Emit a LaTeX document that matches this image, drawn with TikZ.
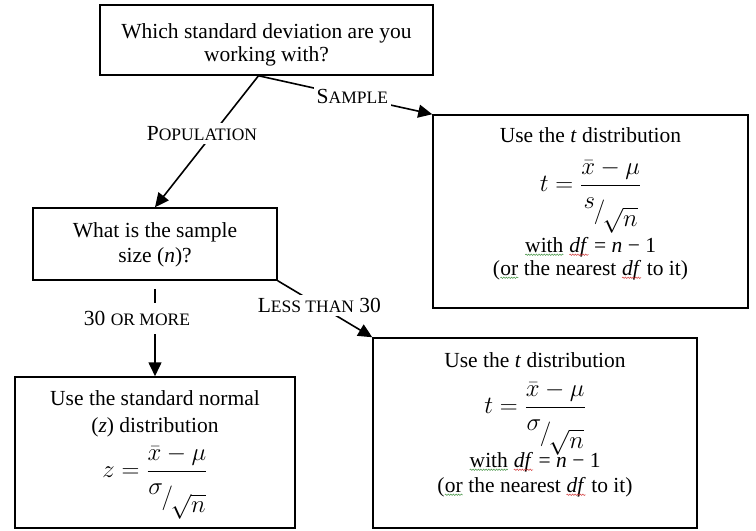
\documentclass[tikz,border=0pt]{standalone}
\usepackage{fontspec}
\setmainfont{Liberation Serif}
\usetikzlibrary{arrows.meta,calc,decorations.pathmorphing}
\newcommand\Sc[1]{{\fontsize{17.5bp}{20bp}\selectfont #1}}
\newcommand\Squig[2]{\tikz[baseline=(sq.base)]{\node[inner sep=0pt,outer sep=0pt,draw=none,fill=none,anchor=base](sq){#2};\draw[#1,line width=0.5bp,decorate,decoration={snake,amplitude=0.7bp,segment length=2.6bp}]([yshift=-2.5bp]sq.base west)--([yshift=-2.5bp]sq.base east);}}
\newcommand\SkewDen[2]{#1\kern-0.05em\raisebox{-0.4em}{$\Big/$}\kern-0.1em\raisebox{-0.72em}{$#2$}}
\definecolor{sqgreen}{RGB}{70,150,70}
\definecolor{sqred}{RGB}{210,60,60}
\begin{document}
\begin{tikzpicture}[x=1bp,y=-1bp,
  box/.style={draw,line width=1.5bp,inner sep=0pt},
  txt/.style={font=\fontsize{21.5bp}{25bp}\selectfont,inner sep=0pt,anchor=base},
  mth/.style={font=\fontsize{26bp}{30bp}\selectfont,inner sep=0pt,anchor=base},
  conn/.style={line width=1.6bp},
  arr/.style={conn,-{Triangle[length=14bp,width=13bp]}},
  lab/.style={fill=white,inner sep=3bp,font=\fontsize{21.5bp}{25bp}\selectfont}]
\fill[white] (0,0) rectangle (756,531);
\useasboundingbox (0,0) rectangle (756,531);

% boxes
\node[box,minimum width=333bp,minimum height=70bp] (top) at (266.5,40) {};
\node[box,minimum width=315bp,minimum height=193bp] (rbox) at (590.5,211.5) {};
\node[box,minimum width=244bp,minimum height=72bp] (mid) at (155,244) {};
\node[box,minimum width=280bp,minimum height=151bp] (lbox) at (155,452.5) {};
\node[box,minimum width=324bp,minimum height=190bp] (brbox) at (535,433) {};

% texts
\node[txt] (top1) at ($(top.north)+(0,34)$) {Which standard deviation are you};
\node[txt] (top2) at ($(top.north)+(0,57)$) {working with?};

\node[txt] (mid1) at ($(mid.north)+(0,30)$) {What is the sample};
\node[txt] (mid2) at ($(mid.north)+(0,55)$) {size (\textit{n})?};

\node[txt] (r1) at ($(rbox.north)+(0,28)$) {Use the \textit{t} distribution};
\node[mth] (rf) at ($(rbox.north)+(0,77)$) {$\displaystyle t=\frac{\bar{x}-\mu}{\SkewDen{s}{\sqrt{n}}}$};
\node[txt] (r2) at ($(rbox.north)+(0,138)$) {\Squig{sqgreen}{with} \Squig{sqred}{\textit{df}} = \textit{n} − 1};
\node[txt] (r3) at ($(rbox.north)+(0,161)$) {(\Squig{sqgreen}{or} the nearest \Squig{sqred}{\textit{df}} to it)};

\node[txt] (b1) at ($(brbox.north)+(0,30)$) {Use the \textit{t} distribution};
\node[mth] (bf) at ($(brbox.north)+(0,76)$) {$\displaystyle t=\frac{\bar{x}-\mu}{\SkewDen{\sigma}{\sqrt{n}}}$};
\node[txt] (b2) at ($(brbox.north)+(0,130)$) {\Squig{sqgreen}{with} \Squig{sqred}{\textit{df}} = \textit{n} − 1};
\node[txt] (b3) at ($(brbox.north)+(0,155)$) {(\Squig{sqgreen}{or} the nearest \Squig{sqred}{\textit{df}} to it)};

\node[txt] (l1) at ($(lbox.north)+(0,29)$) {Use the standard normal};
\node[txt] (l2) at ($(lbox.north)+(0,56)$) {(\textit{z}) distribution};
\node[mth] (lf) at ($(lbox.north)+(0,101)$) {$\displaystyle z=\frac{\bar{x}-\mu}{\SkewDen{\sigma}{\sqrt{n}}}$};

% connectors
\coordinate (split) at ($(top.south)+(-8,0)$);
\coordinate (m30) at ($(mid.south)+(0,8)$);
\draw[arr] (split) -- node[lab,pos=0.54] (lsample) {S\Sc{AMPLE}} (rbox.north west);
\draw[arr] (split) -- node[lab,pos=0.44,xshift=-11bp] (lpop) {P\Sc{OPULATION}} (mid.north);
\draw[arr] (mid.south east) -- node[lab,pos=0.44] (lless) {L\Sc{ESS THAN} 30} (brbox.north west);
\draw[arr] (m30) -- node[lab,pos=0.34,xshift=-18bp,inner ysep=8bp] (l30) {30 \Sc{OR MORE}} (lbox.north);
\end{tikzpicture}
\end{document}
